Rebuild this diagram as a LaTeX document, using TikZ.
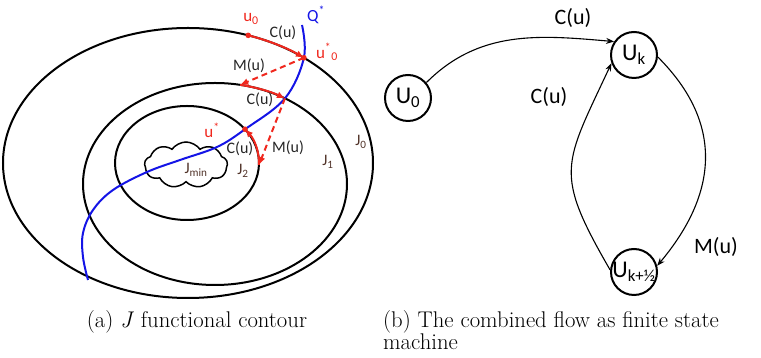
\documentclass[tikz,border=0pt]{standalone}
\usepackage{fontspec}
\newfontfamily\calib{Carlito}
\usetikzlibrary{arrows.meta,shapes.symbols}
\definecolor{redA}{RGB}{240,40,30}
\definecolor{jbrown}{RGB}{80,50,40}
\definecolor{blueQ}{RGB}{20,20,230}
\tikzset{
  contour/.style={draw=black,line width=2pt},
  lbl/.style={font=\calib\fontsize{16}{16}\selectfont, inner sep=0pt, text=black!85},
  redlbl/.style={lbl, text=redA, font=\calib\fontsize{17}{17}\selectfont},
  jlbl/.style={lbl, text=jbrown},
  cflow/.style={draw=redA, line width=2pt, -{Latex[length=8pt,width=7pt]}},
  mflow/.style={cflow, dash pattern=on 6pt off 4pt},
  stnode/.style={circle, draw, line width=2pt, minimum size=46pt, inner sep=0pt, font=\calib\fontsize{24}{24}\selectfont},
  trans/.style={draw, line width=1.1pt, -{Stealth[length=8pt,width=6pt]}},
  tlbl/.style={font=\calib\fontsize{22}{22}\selectfont, inner sep=0pt},
  captxt/.style={font=\fontsize{22.7}{22}\selectfont, inner sep=0pt}
}
\begin{document}
\begin{tikzpicture}[x=1pt,y=1pt]
\useasboundingbox (0,0) rectangle (761,358);
% contours
\draw[contour] (188,195) ellipse [x radius=185pt, y radius=135pt];
\draw[contour] (215,174) ellipse [x radius=132pt, y radius=101pt];
\draw[contour] (187,195) ellipse [x radius=72pt, y radius=57pt];
\node[cloud, draw, line width=1.5pt, cloud puffs=9, cloud puff arc=110, aspect=1.8, minimum width=83pt, minimum height=46pt, inner sep=0pt] (jmin) at (186,193) {};
% points
\coordinate (u0) at ({188+185*cos(71)},{195+135*sin(71)});
\coordinate (u0s) at ({188+185*cos(51.2)},{195+135*sin(51.2)});
\coordinate (a1) at ({215+132*cos(79)},{174+101*sin(79)});
\coordinate (b1) at ({215+132*cos(58)},{174+101*sin(58)});
\coordinate (c2) at ({187+72*cos(-2)},{195+57*sin(-2)});
\coordinate (us) at ({187+72*cos(36.3)},{195+57*sin(36.3)});
% Q* curve
\draw[blueQ, line width=2pt] plot[smooth, tension=0.6] coordinates {(302,333) (u0s) (b1) (us) (217,211) (180,198) (147,186) (113,168) (93,148) (83,125) (83,101) (88,78)};
% red flows
\draw[cflow] (u0) arc[start angle=71, end angle=51.2, x radius=185pt, y radius=135pt];
\draw[mflow] (u0s) -- (a1);
\draw[cflow] (a1) arc[start angle=79, end angle=58, x radius=132pt, y radius=101pt];
\draw[mflow] (b1) -- (c2);
\draw[cflow] (c2) arc[start angle=-2, end angle=36.3, x radius=72pt, y radius=57pt];
\fill[redA] (u0) circle (2.8pt);
\fill[redA] (u0s) circle (2.8pt);
\fill[redA] (us) circle (2.8pt);
% left labels
\node[redlbl] (lu0) at (251,339) {u\textsubscript{0}};
\node[lbl, text=blueQ, font=\calib\fontsize{17}{17}\selectfont] (lQ) at (316,343) {Q\textsuperscript{*}};
\node[lbl] (lc1) at (283,325) {C(u)};
\node[redlbl] (lu0s) at (327,306) {u\textsuperscript{*}\textsubscript{0}};
\node[lbl] (lm1) at (249,292) {M(u)};
\node[lbl] (lc2) at (260,258) {C(u)};
\node[redlbl] (lus) at (212,228) {u\textsuperscript{*}};
\node[lbl] (lc3) at (240,209) {C(u)};
\node[lbl] (lm2) at (288,210) {M(u)};
\node[jlbl] (lj2) at (243,187) {J\textsubscript{2}};
\node[jlbl] (lj1) at (328,196) {J\textsubscript{1}};
\node[jlbl] (lj0) at (361,216) {J\textsubscript{0}};
\node[jlbl] (ljm) at (196,188) {J\textsubscript{min}};
% state machine
\node[stnode] (U0) at (408,260) {\makebox[0pt]{U\textsubscript{0}}};
\node[stnode] (Uk) at (634,303) {\makebox[0pt]{U\textsubscript{k}}};
\node[stnode] (Ukh) at (634,86) {\makebox[0pt]{U\textsubscript{k+½}}};
\draw[trans] (U0.40) to[out=45,in=175] (Uk.146);
\draw[trans] (Uk.-5) to[out=-45,in=50,looseness=1.15] (Ukh.15);
\draw[trans] (Ukh.175) to[out=120,in=-115,looseness=1.4] (Uk.-160);
\node[tlbl] (t1) at (573,340) {C(u)};
\node[tlbl] (t2) at (549,261) {C(u)};
\node[tlbl] (t3) at (716,111) {M(u)};
% captions
\node[captxt, anchor=base] (capa) at (197,30) {(a) \textit{J} functional contour};
\node[captxt, anchor=base west] (capb1) at (383,30) {(b) The combined flow as finite state};
\node[captxt, anchor=base west] (capb2) at (383,8) {machine};
\end{tikzpicture}
\end{document}
